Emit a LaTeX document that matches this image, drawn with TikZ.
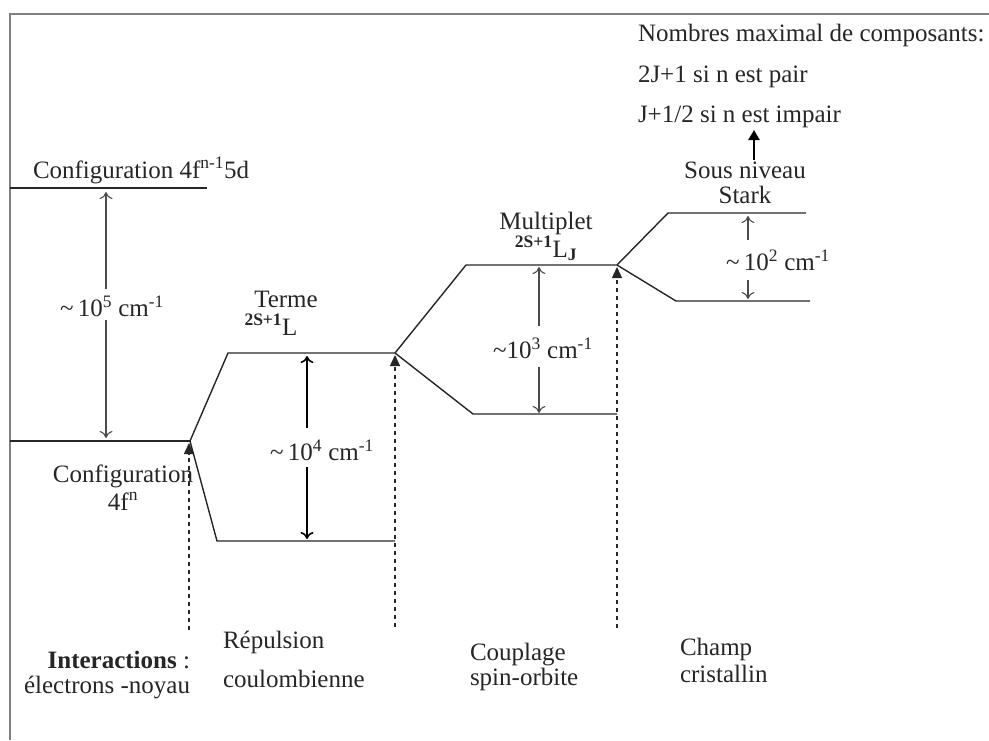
\documentclass[tikz,border=0pt]{standalone}
\usepackage{fontspec}
\setmainfont{Liberation Serif}
\usetikzlibrary{arrows.meta}
\newcommand{\sk}[1]{\textsuperscript{#1}}
\begin{document}
\begin{tikzpicture}[x=1pt,y=-1pt,
  every node/.style={inner sep=0pt, outer sep=0pt, text=black!85,
    font=\fontsize{25}{29}\selectfont},
  frameline/.style={draw=black!50, line width=1.3pt},
  lvl/.style={draw=black!85, line width=1.4pt},
  gapthin/.style={draw=black!70, line width=1.1pt,
    -{To[length=7pt,width=13pt,line width=1.1pt]}},
  gapbold/.style={draw=black, line width=2.2pt,
    -{To[length=7pt,width=13pt,line width=1.6pt]}},
  guide/.style={draw=black!85, line width=1.4pt, dash pattern=on 4pt off 4pt,
    -{Triangle[length=11pt,width=10pt]}},
  pointer/.style={draw=black, line width=2.8pt,
    -{Triangle[length=10pt,width=11pt]}}
]
\useasboundingbox (0,0) rectangle (989,740);

% frame
\coordinate (fb) at (10,740);
\coordinate (fc) at (10,14);
\coordinate (fr) at (989,14);
\draw[frameline] (fb) -- (fc) -- (fr);

% energy levels
\coordinate (e0L) at (10,188);  \coordinate (e0R) at (207,188);
\coordinate (g0L) at (10,441);  \coordinate (g0R) at (190,441);
\coordinate (t1L) at (228,353); \coordinate (t1R) at (395,353);
\coordinate (t2L) at (217,541); \coordinate (t2R) at (395,541);
\coordinate (m1L) at (466,265); \coordinate (m1R) at (617,265);
\coordinate (m2L) at (473,414); \coordinate (m2R) at (617,414);
\coordinate (s1L) at (668,213); \coordinate (s1R) at (806,213);
\coordinate (s2L) at (676,301); \coordinate (s2R) at (810,301);

\draw[lvl] (e0L) -- (e0R);
\draw[lvl] (g0L) -- (g0R);
\draw[lvl] (g0R) -- (t1L) -- (t1R);
\draw[lvl] (g0R) -- (t2L) -- (t2R);
\draw[lvl] (t1R) -- (m1L) -- (m1R);
\draw[lvl] (t1R) -- (m2L) -- (m2R);
\draw[lvl] (m1R) -- (s1L) -- (s1R);
\draw[lvl] (m1R) -- (s2L) -- (s2R);

% dashed guides rising to each splitting point
\coordinate (d0) at (189,630);
\coordinate (d1) at (395,627);
\coordinate (d2) at (617,628);
\draw[guide] (d0) -- (189,443);
\draw[guide] (d1) -- (395,355);
\draw[guide] (d2) -- (617,267);

% level labels
\node[anchor=base west] (cfg5d) at (33,178) {Configuration 4f\sk{n-1}5d};
\node[anchor=base] (cfg4fa) at (123,482) {Configuration};
\node[anchor=base] (cfg4fb) at (123,510) {4f\sk{n}};
\node[anchor=base] (terme) at (286,307) {Terme};
\node[anchor=base] (termeL) at (271,335) {\sk{\bfseries 2S+1}L};
\node[anchor=base] (multi) at (546,229) {Multiplet};
\node[anchor=base] (multiL) at (546,257) {\sk{\bfseries 2S+1}L\textsubscript{\bfseries J}};
\node[anchor=base] (sous) at (745,178) {Sous niveau};
\node[anchor=base] (stark) at (745,203) {Stark};

% note on the number of Stark components
\node[anchor=base west] (nb) at (638,41) {Nombres maximal de composants:};
\node[anchor=base west] (pair) at (638,82) {2J+1 si n est pair};
\node[anchor=base west] (impair) at (638,122) {J+1/2 si n est impair};
\coordinate (pt0) at (754,160);
\coordinate (pt1) at (754,130);
\draw[pointer] (pt0) -- (pt1);

% splitting magnitudes
\node (k5) at (112,306) {\textasciitilde\,10\sk{5} cm\sk{-1}};
\node (k4) at (322,450) {\textasciitilde\,10\sk{4} cm\sk{-1}};
\node (k3) at (543,348) {\textasciitilde10\sk{3} cm\sk{-1}};
\node (k2) at (778,260) {\textasciitilde\,10\sk{2} cm\sk{-1}};

\coordinate (a5t) at (106,192); \coordinate (a5b) at (106,438);
\draw[gapthin] (106,289) -- (a5t);
\draw[gapthin] (106,320) -- (a5b);

\coordinate (a4t) at (307,356); \coordinate (a4b) at (307,539);
\draw[gapbold] (307,428) -- (a4t);
\draw[gapbold] (307,467) -- (a4b);

\coordinate (a3t) at (539,267); \coordinate (a3b) at (539,413);
\draw[gapthin] (539,326) -- (a3t);
\draw[gapthin] (539,367) -- (a3b);

\coordinate (a2t) at (748,216); \coordinate (a2b) at (748,299);
\draw[gapthin] (748,240) -- (a2t);
\draw[gapthin] (748,280) -- (a2b);

% interaction labels
\node[anchor=base east] (int1) at (190,668) {\textbf{Interactions} :};
\node[anchor=base east] (int2) at (190,693) {électrons -noyau};
\node[anchor=base west] (rep1) at (223,648) {Répulsion};
\node[anchor=base west] (rep2) at (223,687) {coulombienne};
\node[anchor=base west] (cou1) at (470,660) {Couplage};
\node[anchor=base west] (cou2) at (470,685) {spin-orbite};
\node[anchor=base west] (cha1) at (680,655) {Champ};
\node[anchor=base west] (cha2) at (680,682) {cristallin};
\end{tikzpicture}
\end{document}
